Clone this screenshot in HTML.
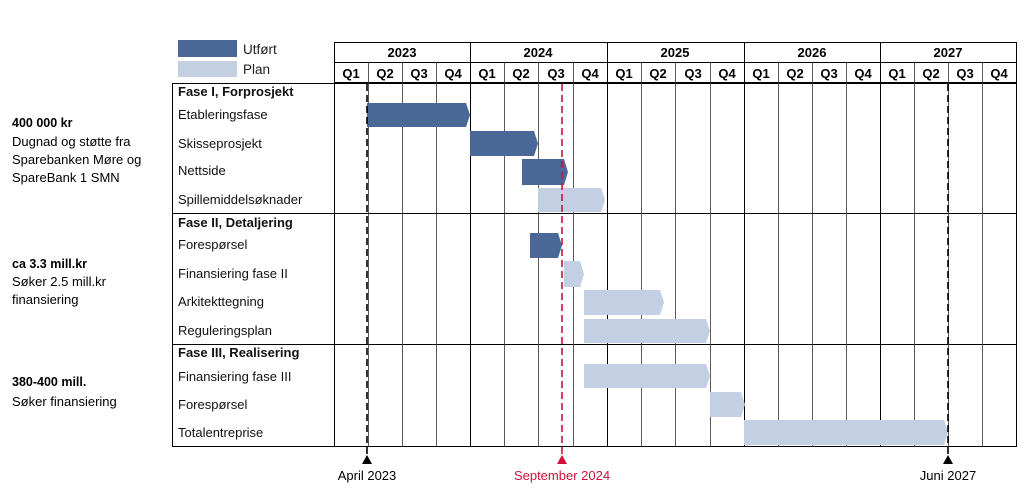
<!DOCTYPE html>
<html><head><meta charset="utf-8"><style>
body{margin:0;background:#fff;}
svg text{font-family:"Liberation Sans",sans-serif;}
</style></head><body>
<svg width="1024" height="494" xmlns="http://www.w3.org/2000/svg">
<rect x="178" y="40" width="59" height="17" fill="#4a6897"/>
<rect x="178" y="61" width="59" height="16" fill="#c3cfe2"/>
<text x="243" y="54" font-size="13.5" fill="#222">Utført</text>
<text x="243" y="74" font-size="13.5" fill="#222">Plan</text>
<g font-size="13" fill="#000">
<text x="12" y="127" font-weight="bold" font-size="12.5">400 000 kr</text>
<text x="12" y="146">Dugnad og støtte fra</text>
<text x="12" y="164">Sparebanken Møre og</text>
<text x="12" y="182">SpareBank 1 SMN</text>
<text x="12" y="268" font-weight="bold" font-size="12.5">ca 3.3 mill.kr</text>
<text x="12" y="286">Søker 2.5 mill.kr</text>
<text x="12" y="304">finansiering</text>
<text x="12" y="386" font-weight="bold" font-size="12.5">380-400 mill.</text>
<text x="12" y="406">Søker finansiering</text>
</g>
<!-- grid -->
<g stroke="#000" stroke-width="1" fill="none">
<rect x="334.5" y="42.5" width="682" height="40"/>
<line x1="334" y1="62.5" x2="1017" y2="62.5"/>
<rect x="172.5" y="83.5" width="844" height="363"/>
<line x1="172" y1="213.5" x2="1017" y2="213.5"/>
<line x1="172" y1="344.5" x2="1017" y2="344.5"/>
<line x1="334.5" y1="42" x2="334.5" y2="447"/>
<line x1="470.5" y1="42" x2="470.5" y2="447"/>
<line x1="607.5" y1="42" x2="607.5" y2="447"/>
<line x1="744.5" y1="42" x2="744.5" y2="447"/>
<line x1="880.5" y1="42" x2="880.5" y2="447"/>
</g>
<g stroke="#333" stroke-width="0.8">
<line x1="368.5" y1="62" x2="368.5" y2="447"/><line x1="402.5" y1="62" x2="402.5" y2="447"/><line x1="436.5" y1="62" x2="436.5" y2="447"/>
<line x1="504.5" y1="62" x2="504.5" y2="447"/><line x1="538.5" y1="62" x2="538.5" y2="447"/><line x1="573.5" y1="62" x2="573.5" y2="447"/>
<line x1="641.5" y1="62" x2="641.5" y2="447"/><line x1="675.5" y1="62" x2="675.5" y2="447"/><line x1="710.5" y1="62" x2="710.5" y2="447"/>
<line x1="778.5" y1="62" x2="778.5" y2="447"/><line x1="812.5" y1="62" x2="812.5" y2="447"/><line x1="846.5" y1="62" x2="846.5" y2="447"/>
<line x1="914.5" y1="62" x2="914.5" y2="447"/><line x1="948.5" y1="62" x2="948.5" y2="447"/><line x1="982.5" y1="62" x2="982.5" y2="447"/>
</g>
<!-- bars -->
<g fill="#4a6897">
<polygon points="367,103 466,103 470,115 466,127 367,127"/>
<polygon points="470,131 534,131 538,143.5 534,156 470,156"/>
<polygon points="522,159 564,159 568,172 564,185 522,185"/>
<polygon points="530,233 558,233 562,245.5 558,258 530,258"/>
</g>
<g fill="#c3cfe2">
<polygon points="538,188 601,188 605,200 601,212 538,212"/>
<polygon points="564,261 580,261 584,274 580,287 564,287"/>
<polygon points="584,290 660,290 664,302.5 660,315 584,315"/>
<polygon points="584,319 706,319 710,331 706,343 584,343"/>
<polygon points="584,364 706,364 710,376 706,388 584,388"/>
<polygon points="710,392 741,392 745,404.5 741,417 710,417"/>
<polygon points="744,420 944,420 948,432.5 944,445 744,445"/>
</g>
<g font-size="13" font-weight="bold" text-anchor="middle">
<text x="402" y="57">2023</text><text x="538" y="57">2024</text><text x="675" y="57">2025</text><text x="812" y="57">2026</text><text x="948" y="57">2027</text>
</g>
<g font-size="13" font-weight="bold" text-anchor="middle">
<text x="351" y="78">Q1</text><text x="385" y="78">Q2</text><text x="419" y="78">Q3</text><text x="453" y="78">Q4</text>
<text x="487" y="78">Q1</text><text x="521" y="78">Q2</text><text x="556" y="78">Q3</text><text x="590" y="78">Q4</text>
<text x="624" y="78">Q1</text><text x="658" y="78">Q2</text><text x="693" y="78">Q3</text><text x="727" y="78">Q4</text>
<text x="761" y="78">Q1</text><text x="795" y="78">Q2</text><text x="829" y="78">Q3</text><text x="863" y="78">Q4</text>
<text x="897" y="78">Q1</text><text x="931" y="78">Q2</text><text x="965" y="78">Q3</text><text x="999" y="78">Q4</text>
</g>
<g font-size="13" fill="#111">
<text x="178" y="96" font-weight="bold">Fase I, Forprosjekt</text>
<text x="178" y="119">Etableringsfase</text>
<text x="178" y="148">Skisseprosjekt</text>
<text x="178" y="175">Nettside</text>
<text x="178" y="204">Spillemiddelsøknader</text>
<text x="178" y="227" font-weight="bold">Fase II, Detaljering</text>
<text x="178" y="249">Forespørsel</text>
<text x="178" y="278">Finansiering fase II</text>
<text x="178" y="306">Arkitekttegning</text>
<text x="178" y="335">Reguleringsplan</text>
<text x="178" y="357" font-weight="bold">Fase III, Realisering</text>
<text x="178" y="381">Finansiering fase III</text>
<text x="178" y="409">Forespørsel</text>
<text x="178" y="437">Totalentreprise</text>
</g>
<line x1="367" y1="84" x2="367" y2="456" stroke="#000" stroke-width="1.6" stroke-dasharray="7,4"/>
<line x1="948" y1="84" x2="948" y2="456" stroke="#000" stroke-width="1.6" stroke-dasharray="7,4"/>
<line x1="562" y1="84" x2="562" y2="456" stroke="#d0103a" stroke-width="1.6" stroke-dasharray="7,4"/>
<polygon points="367,455 362,464 372,464" fill="#000"/>
<polygon points="948,455 943,464 953,464" fill="#000"/>
<polygon points="562,455 557,464 567,464" fill="#d0103a"/>
<g font-size="13" text-anchor="middle">
<text x="367" y="480">April 2023</text>
<text x="562" y="480" fill="#d0103a">September 2024</text>
<text x="948" y="480">Juni 2027</text>
</g>
</svg>
</body></html>
